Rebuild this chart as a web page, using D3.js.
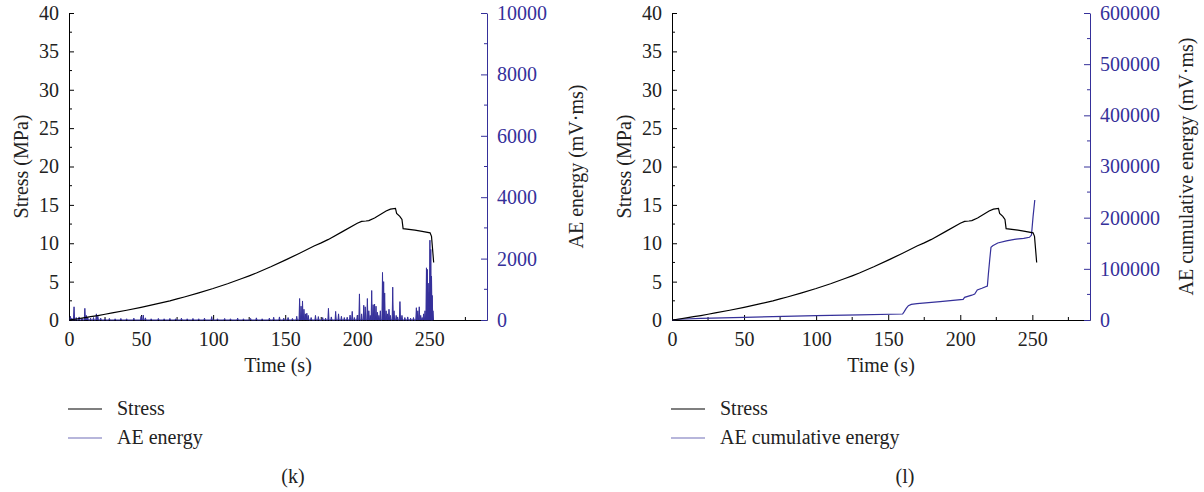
<!DOCTYPE html>
<html>
<head>
<meta charset="utf-8">
<script src="https://cdn.jsdelivr.net/npm/d3@7"></script>
<style>
  body { margin: 0; background: white; }
  text { font-family: "Liberation Serif", "DejaVu Serif", serif; }
</style>
</head>
<body>
<div id="chart"></div>
<script>
// stress curve (same specimen in both panels)
const stressTime = [0, 5, 10, 15, 20, 25, 30, 40, 50, 60, 70, 75, 80, 90, 100, 110, 120, 125, 130, 140, 150, 160, 170, 175, 180, 190, 200, 203, 206, 208, 212, 216, 220, 223, 226.5, 227.3, 229.5, 231, 231.8, 240, 245, 250.5, 251.5, 253]
const stressValue = [0, 0.13, 0.28, 0.43, 0.58, 0.75, 0.92, 1.27, 1.65, 2.07, 2.5, 2.75, 3.0, 3.53, 4.1, 4.72, 5.4, 5.75, 6.12, 6.93, 7.8, 8.7, 9.65, 10.05, 10.5, 11.55, 12.6, 12.85, 12.9, 12.95, 13.3, 13.75, 14.2, 14.45, 14.55, 13.9, 13.5, 13.1, 11.9, 11.7, 11.55, 11.35, 10.9, 7.5]

// AE energy hits (k)
const energyTime = [1, 2, 3.5, 5, 7, 9, 11, 12, 13, 15, 17, 19, 20, 22, 25, 28, 32, 36, 40, 45, 50, 51.5, 53, 57, 62, 66, 70, 74, 78, 82, 86, 90, 94, 99, 103, 108, 112, 117, 121, 126, 130, 134, 139, 142, 146, 149, 152, 155, 158,
  160, 161, 162, 163, 164, 165, 166, 168, 171, 173, 176, 178, 180, 182, 185, 187, 189, 191, 193, 195, 196.5, 198, 200, 201.5, 203, 204.5, 205.5, 207, 208, 209, 210, 211, 212, 213, 214, 215, 216, 217.5, 218.3, 219, 220, 221, 222, 223, 224.6, 225.5, 227, 228, 229.6, 231, 233, 235, 237, 239, 241, 242, 243, 244, 245, 246, 247, 248, 248.6, 249.2, 249.8, 250.4, 251, 251.5, 252, 252.5]
const energyValue = [120, 60, 430, 80, 100, 60, 380, 150, 90, 60, 80, 200, 120, 60, 40, 50, 40, 50, 40, 60, 120, 160, 70, 40, 50, 40, 50, 40, 60, 40, 50, 40, 60, 110, 40, 50, 40, 60, 40, 50, 70, 40, 60, 90, 100, 60, 80, 50, 120,
  700, 450, 620, 350, 200, 220, 150, 80, 150, 110, 80, 60, 380, 100, 280, 200, 120, 80, 90, 160, 280, 80, 150, 850, 200, 480, 430, 700, 300, 150, 960, 500, 520, 450, 250, 150, 300, 1550, 1250, 880, 300, 200, 350, 150, 1070, 300, 150, 100, 600, 150, 80, 100, 60, 80, 400, 300, 430, 150, 80, 200, 300, 1700, 1650, 1200, 900, 2600, 2300, 1430, 800, 300]

// AE cumulative energy (l)
const cumTime = [0, 5, 20, 50, 100, 130, 160, 161, 162.5, 164, 166, 170, 186, 202, 203, 208, 210, 211.8, 215, 218.8, 219.5, 220.5, 221.3, 222.5, 226, 232, 237.6, 244, 248, 249.4, 250.5, 251.7]
const cumValue = [0, 1500, 3000, 5300, 8500, 10000, 11700, 16000, 22800, 28000, 30600, 32000, 35800, 40400, 44300, 48500, 50800, 58600, 62000, 66400, 90000, 120000, 142000, 145000, 150500, 154500, 157700, 159500, 161600, 166000, 202000, 234500]

const blue = "#35309a"
const fontSize = 20

const svg = d3.select("#chart").append("svg")
    .attr("width", 1204)
    .attr("height", 492)

const stressData = stressTime.map((t, i) => ({t: t, v: stressValue[i]}))

// spikes: each hit goes up from the baseline and back down
const energyData = []
energyData.push({t: 0, v: 0})
for (let i = 0; i < energyTime.length; i++) {
    energyData.push({t: energyTime[i] - 0.4, v: 0})
    energyData.push({t: energyTime[i], v: energyValue[i]})
    energyData.push({t: energyTime[i] + 0.4, v: 0})
}
const cumData = cumTime.map((t, i) => ({t: t, v: cumValue[i]}))

const panels = [
    {left: 69, right: 487, rMax: 10000, rMajor: 2000, rMinor: 1000, rLabel: "AE energy (mV\u00b7ms)", rLabelX: 576,
     lLabelX: 21, series: energyData, legend: "AE energy", tag: "(k)", tagX: 293, spike: true},
    {left: 672, right: 1090, rMax: 600000, rMajor: 100000, rMinor: 50000, rLabel: "AE cumulative energy (mV\u00b7ms)", rLabelX: 1186,
     lLabelX: 624, series: cumData, legend: "AE cumulative energy", tag: "(l)", tagX: 905, spike: false}
]

const plotTop = 13, plotBottom = 320

panels.forEach(p => {
    const g = svg.append("g")

    const x = d3.scaleLinear().domain([0, 290]).range([p.left, p.right])
    const yL = d3.scaleLinear().domain([0, 40]).range([plotBottom, plotTop])
    const yR = d3.scaleLinear().domain([0, p.rMax]).range([plotBottom, plotTop])

    // left axis
    const leftAxis = g.append("g").attr("transform", `translate(${p.left},0)`)
        .call(d3.axisLeft(yL).tickValues(d3.range(0, 41, 5)).tickSize(-5).tickPadding(10).tickSizeOuter(0))
    leftAxis.append("g").selectAll("line")
        .data(d3.range(2.5, 40, 5))
        .join("line")
        .attr("x1", 0).attr("x2", 3)
        .attr("y1", d => yL(d)).attr("y2", d => yL(d))
        .attr("stroke", "black")

    // bottom axis
    const bottomAxis = g.append("g").attr("transform", `translate(0,${plotBottom})`)
        .call(d3.axisBottom(x).tickValues(d3.range(0, 251, 50)).tickSize(-5).tickPadding(12).tickSizeOuter(0))
    bottomAxis.append("g").selectAll("line")
        .data(d3.range(25, 290, 50))
        .join("line")
        .attr("y1", 0).attr("y2", -3)
        .attr("x1", d => x(d)).attr("x2", d => x(d))
        .attr("stroke", "black")

    // right axis
    const rightAxis = g.append("g").attr("transform", `translate(${p.right},0)`)
        .call(d3.axisRight(yR).tickValues(d3.range(0, p.rMax + 1, p.rMajor)).tickFormat(d3.format("d"))
            .tickSize(-6).tickPadding(10).tickSizeOuter(0))
    rightAxis.append("g").selectAll("line")
        .data(d3.range(p.rMinor, p.rMax, p.rMajor))
        .join("line")
        .attr("x1", 0).attr("x2", -3)
        .attr("y1", d => yR(d)).attr("y2", d => yR(d))
        .attr("stroke", blue)

    ;[leftAxis, bottomAxis, rightAxis].forEach(a => {
        a.selectAll("text").attr("font-size", fontSize).attr("font-family", "Liberation Serif").attr("fill", "#222")
        a.select(".domain").attr("stroke-width", 1)
    })
    rightAxis.selectAll("line").attr("stroke", blue)
    rightAxis.select(".domain").attr("stroke", blue)
    rightAxis.selectAll("text").attr("fill", blue)

    // AE series
    const lineR = d3.line().x(d => x(d.t)).y(d => yR(d.v))
    g.append("path")
        .datum(p.series)
        .attr("d", lineR)
        .attr("fill", p.spike ? blue : "none")
        .attr("stroke", blue)
        .attr("stroke-width", p.spike ? 1 : 1.2)

    // stress
    const lineL = d3.line().x(d => x(d.t)).y(d => yL(d.v))
    g.append("path")
        .datum(stressData)
        .attr("d", lineL)
        .attr("fill", "none")
        .attr("stroke", "black")
        .attr("stroke-width", 1.2)

    // axis titles
    g.append("text")
        .attr("transform", `translate(${p.lLabelX},${(plotTop + plotBottom) / 2}) rotate(-90)`)
        .attr("text-anchor", "middle").attr("dy", "0.35em")
        .attr("font-size", fontSize).attr("fill", "#222")
        .text("Stress (MPa)")
    g.append("text")
        .attr("transform", `translate(${p.rLabelX},${(plotTop + plotBottom) / 2}) rotate(-90)`)
        .attr("text-anchor", "middle").attr("dy", "0.35em")
        .attr("font-size", fontSize).attr("fill", "#222")
        .text(p.rLabel)
    g.append("text")
        .attr("x", (p.left + p.right) / 2).attr("y", 372)
        .attr("text-anchor", "middle")
        .attr("font-size", fontSize).attr("fill", "#222")
        .text("Time (s)")

    // legend
    const legendItems = [{name: "Stress", color: "black"}, {name: p.legend, color: blue}]
    const leg = g.selectAll(".legend")
        .data(legendItems)
        .join("g")
        .attr("transform", (d, i) => `translate(${p.left - 1},${409 + i * 29})`)
    leg.append("line")
        .attr("x1", 0).attr("x2", 34)
        .attr("stroke", d => d.color)
        .attr("stroke-opacity", (d, i) => i == 1 ? 0.7 : 1)
        .attr("stroke-width", 1.2)
    leg.append("text")
        .attr("x", 49).attr("dy", "0.32em")
        .attr("font-size", fontSize).attr("fill", "#222")
        .text(d => d.name)

    g.append("text")
        .attr("x", p.tagX).attr("y", 483)
        .attr("text-anchor", "middle")
        .attr("font-size", fontSize).attr("fill", "#222")
        .text(p.tag)
})
</script>
</body>
</html>
